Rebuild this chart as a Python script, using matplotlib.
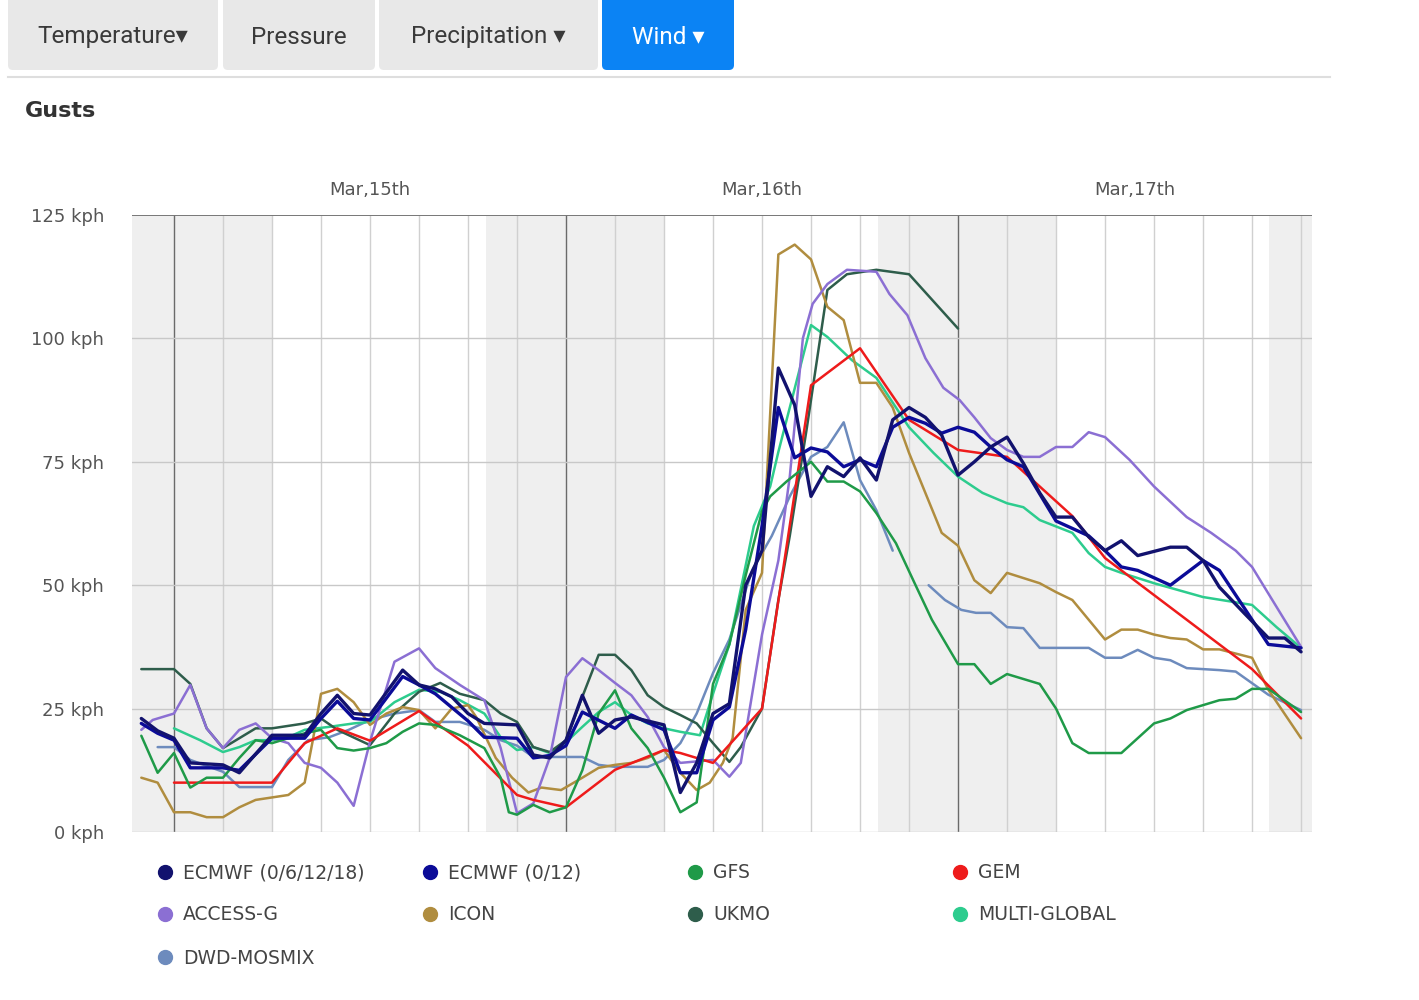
import numpy as np
import matplotlib
matplotlib.use("Agg")
import matplotlib.pyplot as plt
from matplotlib.patches import FancyBboxPatch
from matplotlib.lines import Line2D
import matplotlib.transforms as mtransforms

# ---------------- data (hours from Mar 15 00:00, gust values in kph) ----------------
ecmwf_a_hours = [-2, -1, 0, 1, 3, 4, 6, 8, 9, 10, 11, 12, 14, 15, 16, 17, 18, 19, 21, 22,
                 23, 24, 25, 26, 27, 28, 30, 31, 32, 33, 34, 35, 36, 37, 38, 39, 40, 41, 42, 43,
                 44, 45, 46, 47, 48, 49, 50, 51, 52, 53, 54, 55, 56, 57, 58, 59, 61, 62, 63, 64,
                 65.5, 67, 68, 69]
ecmwf_a_vals = [23, 20.5, 19, 14, 13.6, 12, 19.6, 19.6, 24, 27.7, 24, 23.7, 32.8, 29.8, 29, 27.4, 24, 22, 21.7, 15.6,
                15, 18.6, 27.7, 20, 22.7, 23.3, 21.7, 8, 14, 24, 26, 50, 57, 94, 86.5, 68, 74, 72, 75.8, 71.3,
                83.5, 86, 84, 80.4, 72.3, 75, 78, 80, 74.7, 68.7, 63.8, 63.8, 59.8, 57, 59, 56, 57.7, 57.7, 55, 49.6,
                44.4, 39.3, 39.3, 36.5]

ecmwf_b_hours = [-2, -1, 0, 1, 3, 4, 6, 8, 9, 10, 11, 12, 14, 15, 16, 18, 19, 21, 22, 23,
                 24, 25, 27, 28, 30, 31, 32, 33, 34, 35, 36, 37, 38, 39, 40, 41, 42, 43, 44, 45,
                 46, 47, 48, 49, 50, 51, 52, 54, 56, 57, 58, 59, 61, 63, 64, 67, 69]
ecmwf_b_vals = [22, 20, 18.6, 13, 13, 12.5, 19, 19, 23, 26.5, 23, 22.7, 31.5, 29.8, 28, 22.5, 19.2, 19, 15, 15.5,
                17.5, 24.3, 21, 23.7, 20.7, 12, 12, 22.7, 25.3, 41, 62, 86, 75.8, 77.8, 77, 74, 75.4, 74, 82, 84,
                82.8, 80.8, 82, 81, 78, 75.4, 74, 63, 60, 57, 53.7, 53, 50, 55, 53, 38, 37.3]

gfs_hours = [-2, -1, 0, 1, 2, 3, 4, 5, 6, 8, 9, 10, 11, 12, 13, 14, 15, 16, 17.5, 19,
             20, 20.5, 21, 22, 23, 24, 25, 26, 27, 28, 29, 30, 31, 32, 33, 34, 35, 36, 36.5, 37.5,
             39, 40, 41, 42, 43, 44.2, 45.4, 46.4, 48, 49, 50, 51, 53, 54, 55, 56, 58, 60, 61, 62,
             64, 65, 66, 67, 69]
gfs_vals = [19.5, 12, 16, 9, 11, 11, 15, 18.6, 18, 20, 20.7, 17, 16.5, 17, 18, 20.3, 22, 21.7, 19.6, 17,
            11, 4, 3.5, 5.5, 4, 5, 12.5, 24, 28.7, 21, 17, 11, 4, 6, 30, 38, 52, 65, 68, 71,
            75, 71, 71, 69, 64.6, 58.5, 50, 43, 34, 34, 30, 32, 30, 25, 18, 16, 16, 22, 23, 24.7,
            26.7, 27, 29, 29, 24.3]

gem_hours = [0, 6, 8, 10, 12, 15, 18, 21, 22, 24, 27, 30, 31, 33, 36, 39, 42, 45, 48, 51,
             52, 54, 55, 57, 60, 63, 66, 69]
gem_vals = [10, 10, 18, 21, 18.5, 24.5, 17.5, 7.5, 6.5, 5, 12.6, 16.6, 16, 14, 25, 90.5, 98, 83.5, 77.4, 76,
            73, 67, 64, 55.5, 48, 40.5, 33, 23]

access_hours = [-2, -1.3, 0, 1, 2, 3, 4, 5, 6, 7, 8, 9, 10, 11, 12, 13.5, 15, 16, 17.5, 19,
                20, 21, 22, 23, 24, 25, 26, 27, 28, 29, 30, 31, 33, 34, 34.7, 36, 37, 37.7, 38.5, 39.1,
                40, 41.2, 43, 43.8, 44.9, 46, 47.1, 48.1, 49, 50, 51, 52, 53, 54, 55, 56, 57, 58.5, 60, 62,
                63.5, 65, 66, 67.5, 69]
access_vals = [20.7, 22.7, 24, 29.8, 21, 17, 20.7, 22, 19, 18, 14, 13, 10, 5.3, 18.3, 34.5, 37.2, 33.2, 29.8, 26.7,
               17, 3.8, 5.8, 15, 31.4, 35.2, 32.8, 30.2, 27.7, 23.3, 17.2, 14, 14.6, 11.2, 14, 40, 55, 72, 100, 107,
               111, 113.9, 113.5, 109, 104.7, 96, 90, 87.5, 84, 79.8, 77.4, 76, 76, 78, 78, 81, 80, 75.4, 70, 63.8,
               60.6, 57, 53.7, 45.6, 37.5]

icon_hours = [-2, -1, 0, 1, 2, 3, 4, 5, 6, 7, 8, 8.5, 9, 10, 11, 12, 13, 14, 15, 16,
              17, 18, 18.5, 19.7, 20.7, 21.7, 22.5, 23.7, 25, 26, 27, 28, 29, 30, 31, 32, 32.8, 33.6, 34.2, 35,
              36, 37, 38, 39, 40, 41, 42, 43, 44, 45, 46, 47, 48, 49, 50, 51, 53, 54, 55, 56,
              57, 58, 59, 60, 61, 62, 63, 64, 66, 67, 69]
icon_vals = [11, 10, 4, 4, 3, 3, 5, 6.5, 7, 7.5, 10, 18.6, 28, 29, 26.3, 21.7, 24, 25.3, 24.7, 21,
             25, 25.7, 23.3, 15, 11, 8, 9, 8.5, 11, 13, 13.6, 14, 15, 16.6, 12, 8.5, 10, 14, 19, 45,
             52.5, 117, 119, 116, 106.4, 103.7, 91, 91, 86, 76.8, 68.7, 60.6, 58, 51, 48.4, 52.5, 50.4, 48.6, 47, 43,
             39, 41, 41, 40, 39.3, 39, 37, 37, 35.3, 28.8, 19]

ukmo_hours = [-2, 0, 1, 2, 3, 4, 5, 6, 8, 9, 10, 12, 13.5, 15, 16.3, 17.5, 19, 20, 21, 22,
              23, 24, 25, 26, 27, 28, 29, 30, 31, 32, 33, 34, 34.7, 36, 37, 37.7, 38.75, 40, 41.2, 43,
              45, 48]
ukmo_vals = [33, 33, 30, 21, 17, 19, 21, 21, 22, 23, 20.7, 17.6, 24, 28.4, 30.2, 28, 26.7, 24, 22.3, 17.2,
             16.2, 18.6, 27.4, 35.9, 35.9, 32.8, 27.7, 25.3, 23.7, 22, 18, 14.2, 17.2, 25, 47, 60, 82, 109.8, 113, 113.9,
             113, 102]

multi_hours = [0, 1.6, 3, 4, 5, 6, 7, 8, 9.5, 11, 12, 13.5, 15, 16.3, 17.5, 19, 20, 21, 22, 23,
               24, 25, 26, 27, 28, 29, 30, 31, 32.2, 33, 34, 35.5, 36.5, 37, 37.7, 39, 40, 41.5, 43, 44,
               45, 46.5, 48, 49.5, 51, 52, 53, 55, 56, 57, 58, 60, 61.5, 63, 66, 67.5, 69]
multi_vals = [21, 18.6, 16.2, 17.2, 18.6, 18.6, 19.2, 20.7, 21.3, 22, 22.3, 26.3, 28.8, 28.4, 26.7, 24, 19.2, 16.6, 17.2, 16,
              18.2, 21.3, 24.3, 26.3, 23.7, 22, 21, 20.3, 19.6, 28, 38, 62, 70, 77, 86, 102.7, 100.3, 95.6, 92, 87,
              82, 76.8, 72, 68.7, 66.6, 65.8, 63.2, 60.6, 56.5, 53.7, 52.5, 50.4, 49, 47.6, 46, 41.5, 37.3]

dwd_hours = [-1, 0, 1, 3, 4, 6, 7, 8.2, 9.5, 10.7, 12, 13.5, 15, 16, 17.5, 19, 20, 21, 22, 23,
             25, 26, 27, 29, 30, 31, 32, 33, 34, 35.4, 36.6, 37.7, 39, 40, 41, 42, 43, 44, 45, 46.2,
             47.2, 48.2, 49.1, 50, 51, 52, 53, 54, 56, 57, 58, 59, 60, 61, 62, 64, 65, 67, 69]
dwd_vals = [17.2, 17.2, 14.6, 12.2, 9.1, 9.1, 14.6, 18.6, 19.2, 20.7, 22.7, 24, 24.7, 22.3, 22.3, 20.7, 18.6, 17.5, 15.2, 15.2,
            15.2, 13.6, 13.2, 13.2, 14.6, 18, 24, 32.2, 39, 53, 60, 68, 76, 78, 83, 71.3, 65.2, 57, np.nan, 50,
            47, 45, 44.4, 44.4, 41.5, 41.3, 37.3, 37.3, 37.3, 35.3, 35.3, 36.9, 35.3, 34.8, 33.2, 32.8, 32.5, 27.8, 24.7]

series_names = ["ECMWF (0/6/12/18)", "ECMWF (0/12)", "GFS", "GEM", "ACCESS-G",
                "ICON", "UKMO", "MULTI-GLOBAL", "DWD-MOSMIX"]
series_colors = ["#12126e", "#0b0b98", "#1f9a48", "#ee1b1b", "#8b6fd3",
                 "#b08d3f", "#2e5d4b", "#2dcc8e", "#6d8bbd"]

y_ticks = [0, 25, 50, 75, 100, 125]
y_tick_labels = ["0 kph", "25 kph", "50 kph", "75 kph", "100 kph", "125 kph"]
day_labels = ["Mar,15th", "Mar,16th", "Mar,17th"]
day_label_hours = [12, 36, 58.8]
night_starts = [-2.57, 19.1, 43.1, 67.05]
night_ends = [6, 30, 54, 69.67]
tab_labels = ["Temperature\u25BE", "Pressure", "Precipitation \u25BE", "Wind \u25BE"]
title_text = "Gusts"

x_min, x_max = -2.57, 69.67

# ---------------- figure ----------------
W, H = 1419, 1000
fig = plt.figure(figsize=(W / 100, H / 100), dpi=100)
fig.patch.set_facecolor("white")
# pixel transform (origin top-left) for page layout elements
T = mtransforms.Affine2D().scale(1 / 100, -1 / 100).translate(0, H / 100) + fig.dpi_scale_trans

ax = fig.add_axes([132 / W, 168 / H, 1180 / W, 617 / H])
ax.set_xlim(x_min, x_max)
ax.set_ylim(0, 125)
for s in ax.spines.values():
    s.set_visible(False)

for s0, s1 in zip(night_starts, night_ends):
    ax.axvspan(s0, s1, color="#efefef", lw=0, zorder=0)

for h in range(0, 70, 3):
    if h % 24 == 0:
        ax.axvline(h, color="#6a6a6a", lw=1.0, zorder=1)
    else:
        ax.axvline(h, color="#d0d0d0", lw=1.0, zorder=1)
for v in y_ticks[:-1]:
    ax.axhline(v, color="#c8c8c8", lw=1.0, zorder=1)
ax.axhline(125, color="#777777", lw=1.4, zorder=1)

ax.set_xticks([])
ax.set_yticks(y_ticks)
ax.set_yticklabels(y_tick_labels)
ax.tick_params(axis="y", length=0, pad=20, labelsize=13, labelcolor="#555555")

blend = mtransforms.blended_transform_factory(ax.transData, ax.transAxes)
for lab, hh in zip(day_labels, day_label_hours):
    ax.text(hh, 1.04, lab, transform=blend, ha="center", va="center",
            fontsize=13, color="#555555")

all_hours = [ecmwf_a_hours, ecmwf_b_hours, gfs_hours, gem_hours, access_hours,
             icon_hours, ukmo_hours, multi_hours, dwd_hours]
all_vals = [ecmwf_a_vals, ecmwf_b_vals, gfs_vals, gem_vals, access_vals,
            icon_vals, ukmo_vals, multi_vals, dwd_vals]
draw_order = [8, 7, 6, 5, 4, 3, 2, 1, 0]
for i in draw_order:
    lw = 2.4 if i < 2 else 1.8
    ax.plot(all_hours[i], all_vals[i], color=series_colors[i], lw=lw,
            solid_joinstyle="round", solid_capstyle="round", zorder=3 + (9 - i) * 0.1)

# ---------------- page header (tabs) ----------------
tab_boxes = [(8, 218), (223, 375), (379, 598), (602, 734)]
for k, ((x0, x1), lab) in enumerate(zip(tab_boxes, tab_labels)):
    active = (k == 3)
    face = "#0b83f4" if active else "#e8e8e8"
    p = FancyBboxPatch((x0, -20), x1 - x0, 90, boxstyle="round,pad=0,rounding_size=5",
                       transform=T, facecolor=face, edgecolor="none")
    fig.add_artist(p)
    fig.text((x0 + x1) / 2, 37, lab, transform=T, ha="center", va="center",
             fontsize=17.5, color="white" if active else "#3a3a3a",
             family=["Roboto", "DejaVu Sans"])

fig.add_artist(Line2D([8, 1330], [77, 77], transform=T, color="#dedede", lw=1.5))
fig.text(25, 111, title_text, transform=T, ha="left", va="center", fontsize=16,
         fontweight="bold", color="#333333")

# ---------------- legend ----------------
legend_cols = [165, 430, 695, 960]
legend_rows = [872, 914, 957]
for i, (name, col) in enumerate(zip(series_names, series_colors)):
    r, c = divmod(i, 4)
    x, y = legend_cols[c], legend_rows[r]
    fig.add_artist(Line2D([x], [y], transform=T, marker="o", ms=10, color=col, lw=0))
    fig.text(x + 18, y + 1, name, transform=T, ha="left", va="center", fontsize=13.5,
             color="#444444")

fig.savefig("out.png", dpi=100)
